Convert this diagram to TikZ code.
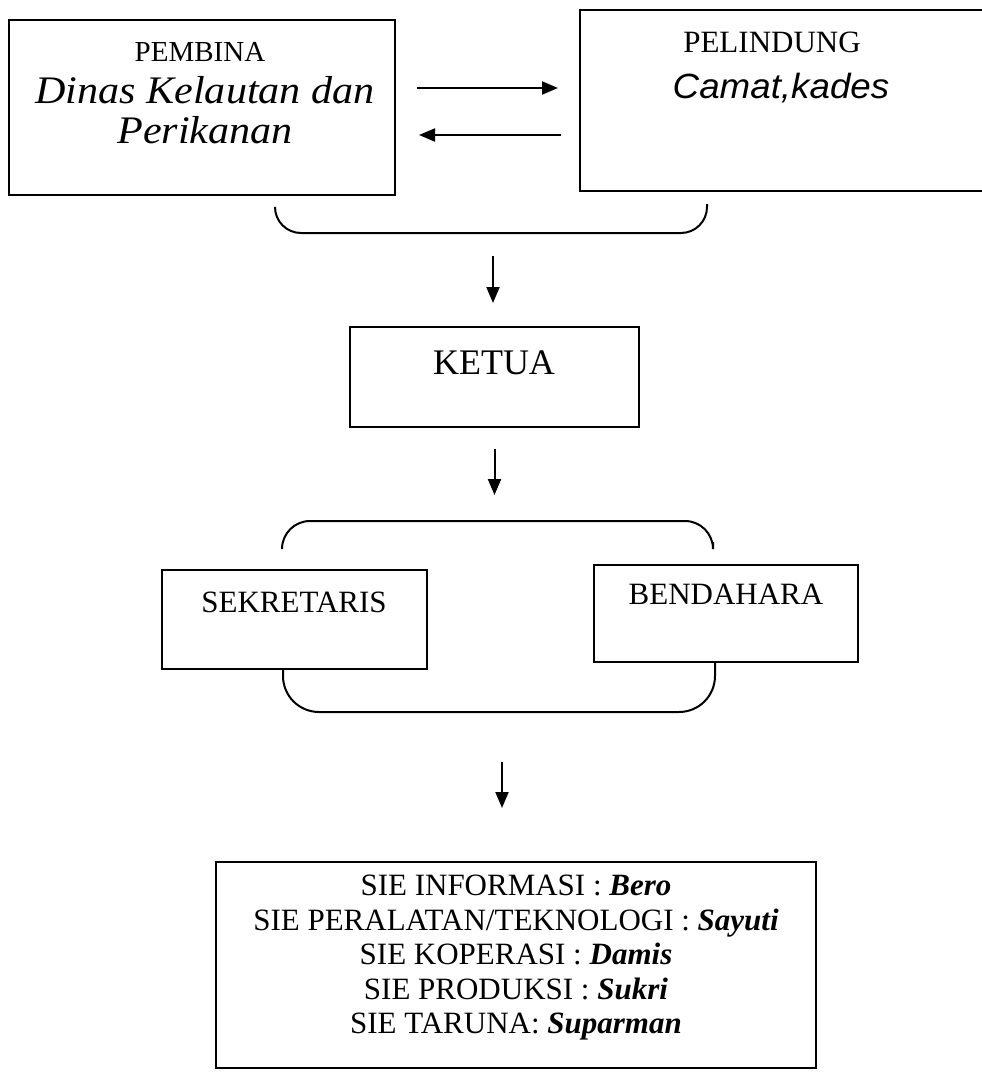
\documentclass[tikz,border=0pt]{standalone}
\usepackage{fontspec}
\setmainfont{Liberation Serif}
\newfontfamily\serifwide[FakeStretch=1.08]{Liberation Serif}
\newfontfamily\sanswide[FakeStretch=1.05]{Liberation Sans}
\usetikzlibrary{arrows.meta}
\tikzset{
  box/.style={draw, rectangle, line width=2pt, inner sep=0pt},
  lbl/.style={inner sep=0pt, align=center},
  arr/.style={line width=2pt, -{Triangle[length=16pt,width=13pt]}},
  brace/.style={line width=2pt},
}
\begin{document}
\begin{tikzpicture}[x=1pt,y=-1pt]
\useasboundingbox (0,0) rectangle (982,1074);
\clip (0,0) rectangle (982,1074);

% boxes
\node[box, minimum width=386pt, minimum height=175pt] (pembina) at (202,107.5) {};
\node[box, minimum width=420pt, minimum height=181pt] (pelindung) at (790,100.5) {};
\node[box, minimum width=289pt, minimum height=100pt] (ketua) at (494.5,377) {};
\node[box, minimum width=265pt, minimum height=99pt] (sekretaris) at (294.5,619.5) {};
\node[box, minimum width=264pt, minimum height=97pt] (bendahara) at (726,613.5) {};
\node[box, minimum width=600pt, minimum height=206pt] (sie) at (516,965) {};

% texts
\node[lbl, font=\fontsize{29}{34}\selectfont] (tpembina) at (200,52) {PEMBINA};
\node[lbl, font=\serifwide\itshape\fontsize{39}{40}\selectfont] (tdinas) at (205,110) {Dinas Kelautan dan\\Perikanan};
\node[lbl, font=\fontsize{31}{36}\selectfont] (tpelindung) at (772,42) {PELINDUNG};
\node[lbl, font=\sanswide\itshape\fontsize{35}{40}\selectfont] (tcamat) at (781,88) {Camat,kades};
\node[lbl, font=\fontsize{36}{40}\selectfont] (tketua) at (494,363) {KETUA};
\node[lbl, font=\fontsize{31}{36}\selectfont] (tsek) at (294,602) {SEKRETARIS};
\node[lbl, font=\fontsize{31}{36}\selectfont] (tben) at (726,594) {BENDAHARA};
\node[lbl, font=\fontsize{31}{34.5}\selectfont] (tsie) at (516,958) {%
SIE INFORMASI : \textbf{\textit{Bero}}\\
SIE PERALATAN/TEKNOLOGI : \textbf{\textit{Sayuti}}\\
SIE KOPERASI : \textbf{\textit{Damis}}\\
SIE PRODUKSI : \textbf{\textit{Sukri}}\\
SIE TARUNA: \textbf{\textit{Suparman}}};

% horizontal arrows between PEMBINA and PELINDUNG
\draw[arr, shorten <=21pt, shorten >=21pt] ([yshift=19.5pt]pembina.east) -- ([yshift=19.5pt]pembina.east -| pelindung.west);
\draw[arr, shorten <=18pt, shorten >=23pt] ([yshift=-27.5pt]pembina.east -| pelindung.west) -- ([yshift=-27.5pt]pembina.east);

% braces
\coordinate (b1) at (493,233);
\draw[brace, rounded corners=26pt] (275,209) |- (b1) -| (707,204);
\coordinate (b2) at (497,521);
\draw[brace, rounded corners=28pt] (282,548) |- (b2) -| (713,542);
\coordinate (b3) at (502,712);
\draw[brace, rounded corners=36pt] (283,670) |- (b3) -| (715,663);

% vertical arrows
\draw[arr, shorten <=23pt, shorten >=23pt] (b1) -- (b1 |- ketua.north);
\draw[arr, shorten <=21pt, shorten >=26pt] (ketua.south) -- (ketua.south |- b2);
\draw[arr, shorten <=50pt, shorten >=53pt] (b3) -- (b3 |- sie.north);
\end{tikzpicture}
\end{document}
